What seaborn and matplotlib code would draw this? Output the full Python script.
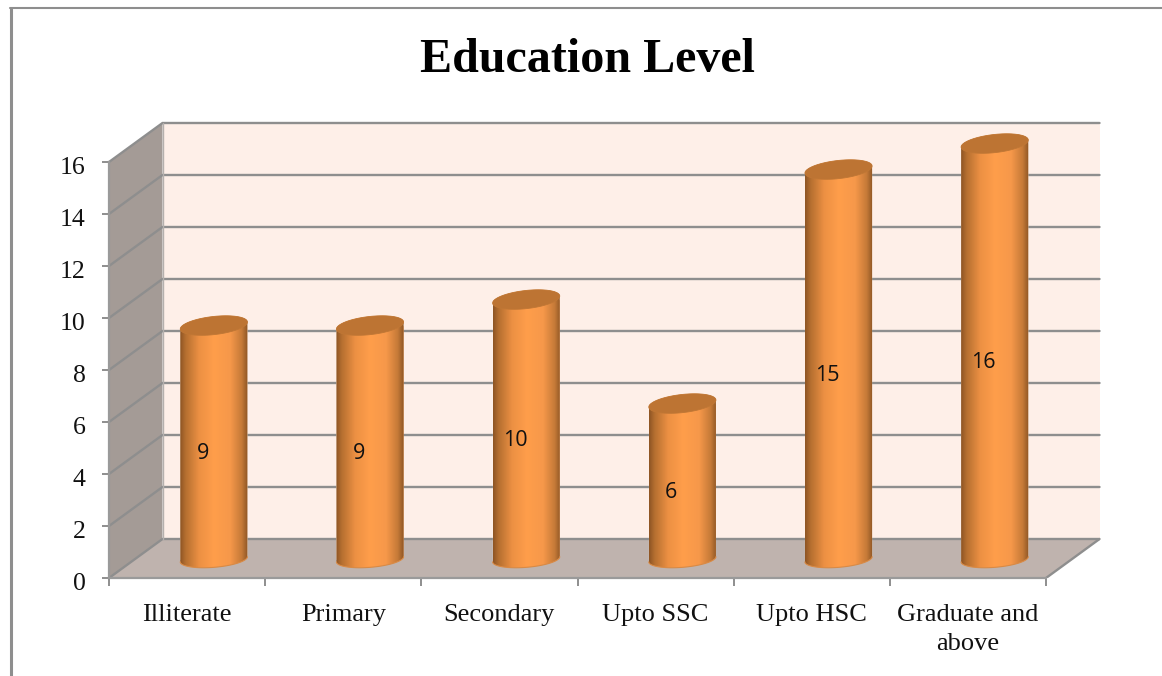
import matplotlib
matplotlib.use("Agg")
import matplotlib.pyplot as plt
import numpy as np
import pandas as pd
import seaborn as sns
from matplotlib.colors import LinearSegmentedColormap
from matplotlib.lines import Line2D
from matplotlib.patches import Polygon
from matplotlib.transforms import ScaledTranslation

categories = ["Illiterate", "Primary", "Secondary", "Upto SSC", "Upto HSC", "Graduate and\nabove"]
counts = [9, 9, 10, 6, 15, 16]
y_ticks = [0, 2, 4, 6, 8, 10, 12, 14, 16]

W, H = 1162, 676
GRID = "#8e8e8e"
# how far the back wall sits behind the front plane, in data units
DEPTH_X = 53.5 / 156.17
DEPTH_Y = 1.5
BAR_W = 0.43

body_cmap = LinearSegmentedColormap.from_list(
    "cyl",
    [(0, "#8e5524"), (0.08, "#b56f30"), (0.28, "#ec9043"), (0.5, "#ff9e4b"),
     (0.74, "#f6984a"), (0.91, "#c67a38"), (1, "#8f5725")],
)


def ring(xc, yc, tilt, b, t):
    # tilted ellipse, the left end sits lower than the right end
    a = BAR_W / 2
    return np.column_stack([xc + a * np.cos(t), yc + tilt * np.cos(t) + b * np.sin(t)])


sns.set_style("white")
plt.rcParams["font.family"] = ["Liberation Serif", "DejaVu Serif"]

fig = plt.figure(figsize=(W / 100, H / 100), dpi=100)
ax = fig.add_axes([109 / W, 1 - 578 / H, (1100 - 109) / W, (578 - 123) / H])
ax.patch.set_alpha(0)

df = pd.DataFrame({"level": categories, "count": counts})
sns.barplot(data=df, x="level", y="count", color="#f6984a", width=BAR_W,
            bottom=DEPTH_Y / 2, saturation=1, ax=ax, zorder=5)

x0, x1 = -0.5, 5.5
xlim = (x0, x0 + 991 / 156.17)
ylim = (0, 17.5)

# walls and floor
ax.fill([x0, x0 + DEPTH_X, x0 + DEPTH_X, x0], [0, DEPTH_Y, 16 + DEPTH_Y, 16], color="#a49b96", lw=0, zorder=1)
ax.fill([x0 + DEPTH_X, x1 + DEPTH_X, x1 + DEPTH_X, x0 + DEPTH_X],
        [DEPTH_Y, DEPTH_Y, 16 + DEPTH_Y, 16 + DEPTH_Y], color="#feefe8", lw=0, zorder=1)
ax.fill([x0, x1, x1 + DEPTH_X, x0 + DEPTH_X], [0, 0, DEPTH_Y, DEPTH_Y], color="#bfb3ae", lw=0, zorder=1)

# gridlines wrap from side wall onto back wall
for v in y_ticks:
    ax.plot([x0, x0 + DEPTH_X, x1 + DEPTH_X], [v, v + DEPTH_Y, v + DEPTH_Y],
            color=GRID, lw=1.7, zorder=2, solid_joinstyle="miter", clip_on=False)
ax.plot([x0 + DEPTH_X, x0 + DEPTH_X], [DEPTH_Y, 16 + DEPTH_Y], color="#b5b0ad", lw=1, zorder=2)
ax.plot([x1, x1 + DEPTH_X], [0, DEPTH_Y], color=GRID, lw=1.7, zorder=2)

# cylinders: body shape clips the seaborn bar and the shading over it
for bar, v in zip(ax.patches, counts):
    xc = bar.get_x() + bar.get_width() / 2 + DEPTH_X / 2
    bar.set_x(xc - bar.get_width() / 2)
    y_base = DEPTH_Y / 2
    y_top = y_base + v - 0.04
    lower = ring(xc, y_base - 0.03, 0.1, 0.31, np.linspace(np.pi, 2 * np.pi, 60))
    upper = ring(xc, y_top, 0.135, 0.35, np.linspace(0, np.pi, 60))
    body = Polygon(np.vstack([lower, upper]), closed=True, transform=ax.transData)
    bar.set_clip_path(body)
    img = ax.imshow(np.linspace(0, 1, 200)[None, :], cmap=body_cmap, aspect="auto", zorder=6,
                    extent=(xc - BAR_W / 2, xc + BAR_W / 2, y_base - 1, y_top + 1), interpolation="bilinear")
    img.set_clip_path(body)
    ax.plot(lower[:, 0], lower[:, 1], color="#d98a45", lw=0.8, zorder=7)
    top = ring(xc, y_top, 0.135, 0.35, np.linspace(0, 2 * np.pi, 90))
    ax.add_patch(Polygon(top, closed=True, facecolor="#bd7433", edgecolor="#c07735", lw=0.6, zorder=8))
    ax.text(xc - 0.072, y_base + v / 2 - 0.47, str(v), ha="center", va="center", fontsize=15.5,
            family=["Open Sans", "DejaVu Sans"], color="#111111", zorder=9)

ax.set_xlim(xlim)
ax.set_ylim(ylim)

sns.despine(ax=ax, top=True, right=True)
ax.spines["left"].set_bounds(0, 16)
ax.spines["bottom"].set_bounds(x0, x1)
for s in ("left", "bottom"):
    ax.spines[s].set_color("#9a9a9a")
    ax.spines[s].set_linewidth(1.6)

ax.set_xlabel("")
ax.set_ylabel("")
ax.set_yticks(y_ticks)
ax.tick_params(axis="y", length=5, width=1.4, color=GRID, pad=12, labelsize=18.5, left=True, labelcolor="#111111")
ax.set_xticks(range(len(categories)), categories)
ax.set_xticks(np.arange(x0, x1 + 1), minor=True)
ax.tick_params(axis="x", which="major", length=0, pad=19, labelsize=19, labelcolor="#111111")
ax.tick_params(axis="x", which="minor", length=6, width=1.4, color=GRID, bottom=True)
for lab in ax.get_xticklabels():
    lab.set_linespacing(1.38)
# digits sit a little under their ticks in the original
shift = ScaledTranslation(0, -3 / 100, fig.dpi_scale_trans)
for lab in ax.get_yticklabels():
    lab.set_transform(lab.get_transform() + shift)

fig.text(587 / W, 1 - 60 / H, "Education Level", ha="center", va="center",
         fontsize=34.6, fontweight="bold", color="#000000")

# chart frame, cut off by the screenshot on the other sides
fig.add_artist(Line2D([11 / W, 11 / W], [0, 1 - 8 / H], color=GRID, lw=2.2))
fig.add_artist(Line2D([10 / W, 1], [1 - 8 / H, 1 - 8 / H], color=GRID, lw=1.5))

fig.savefig("out.png", dpi=100, facecolor="white")
